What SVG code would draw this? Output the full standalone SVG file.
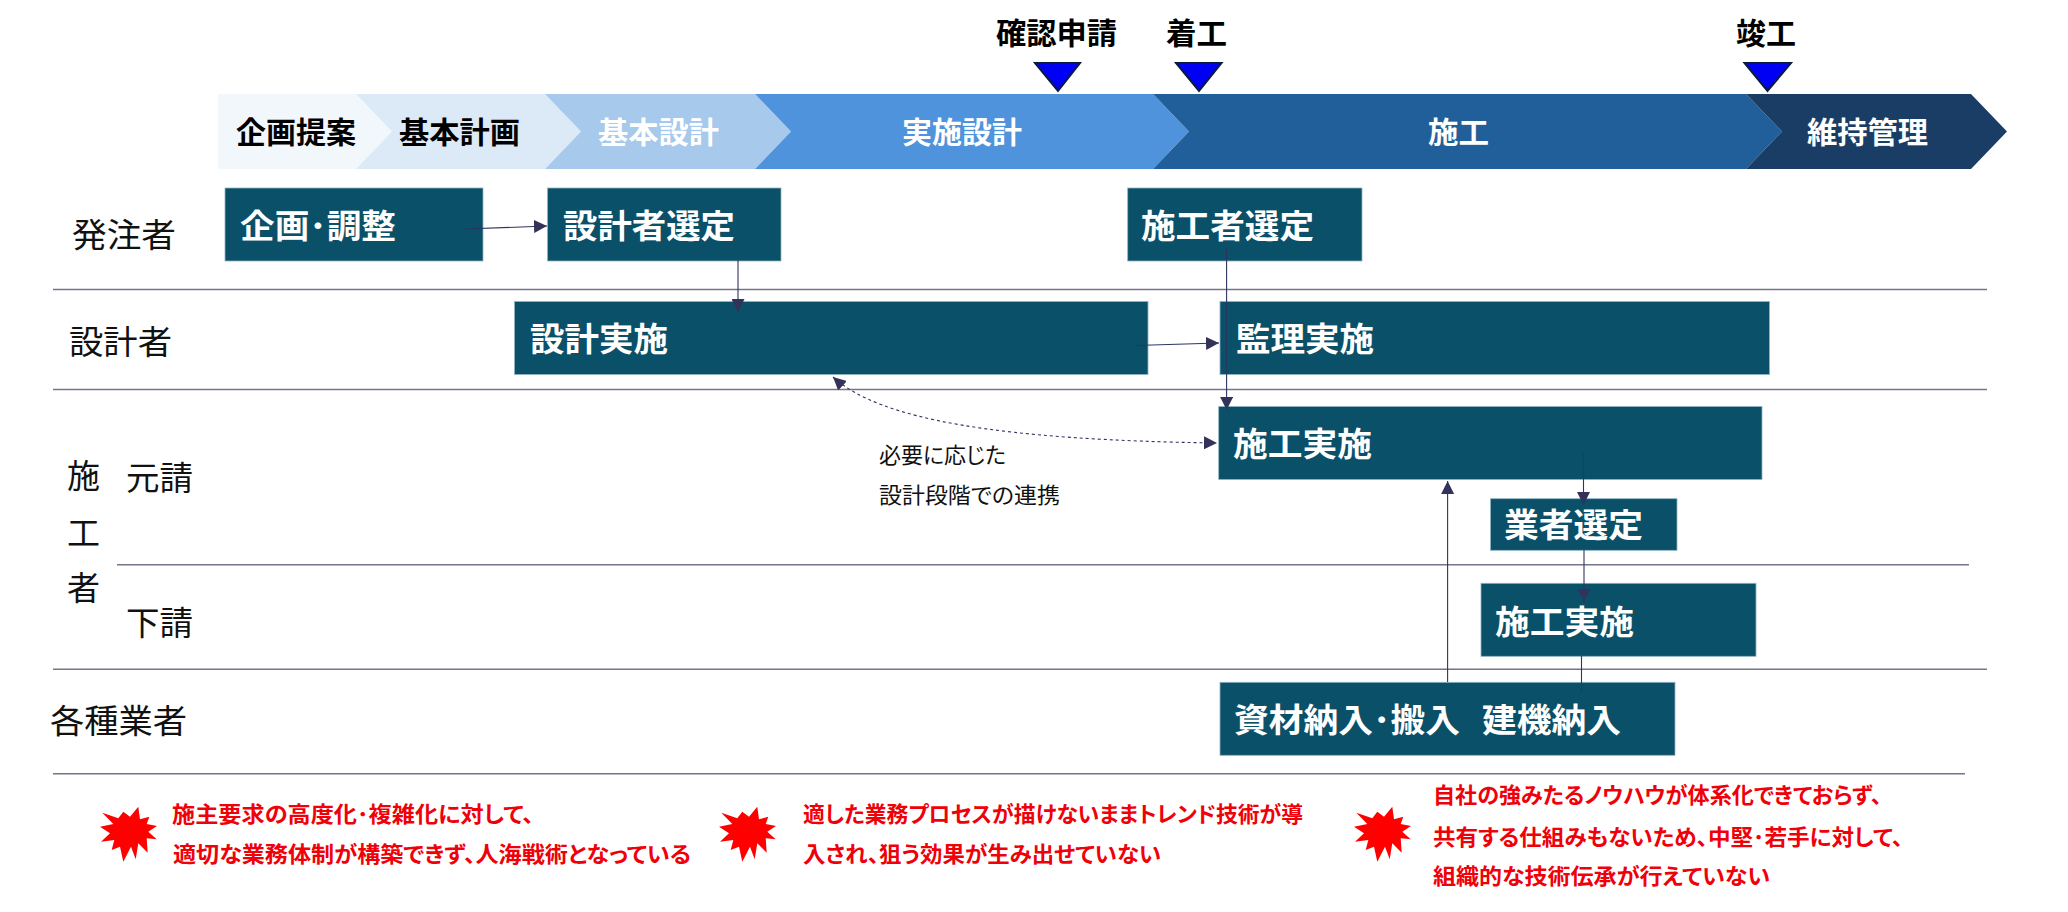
<svg xmlns="http://www.w3.org/2000/svg" width="2068" height="912" viewBox="0 0 2068 912">
<style>
text{font-family:"Noto Sans CJK JP","Noto Sans CJK SC",sans-serif;font-feature-settings:"palt"}
.h{font-size:30px;font-weight:700}
.k{fill:#000}.w{fill:#fff}
.b{fill:#0A5068;stroke:#8FB4C4;stroke-width:.8}
.bt{font-size:33px;font-weight:700;fill:#fff}
.l{font-size:33px;font-weight:400;fill:#111}
.n{font-size:22px;fill:#111}
.r{font-size:22px;font-weight:700;fill:#F00008}
.g{stroke:#74748A;stroke-width:1.6;fill:none}
.c{stroke:#2E3560;stroke-width:1.1;fill:none}
.tri{fill:#0000F5;stroke:#0A1A40;stroke-width:2}
.st{fill:#FF0000}
</style>
<defs>
<marker id="a" markerUnits="userSpaceOnUse" markerWidth="13" markerHeight="13" viewBox="0 0 13 13" refX="13" refY="6.5" orient="auto-start-reverse"><path d="M0,0L13,6.5L0,13Z" fill="#33335A"/></marker>
<path id="burst" d="M138.3,806.7L140,819.3L149.3,816.7L146.7,824L157,826L148.3,831.7L156.7,839.3L146.7,838.3L147.7,852.7L138.3,843.3L135.7,859.3L131,846.7L123.3,861.7L120,846.7L111.7,850L114.3,840L101,841.7L110,833.3L100,826.7L113.3,824L102.3,812.7L118.3,818.3L123.3,811.7L130,816.7Z"/>
</defs>
<g id="phases">
<g id="p1"><path d="M218,94H356L392,131.5L356,169H218Z" fill="#F2F7FC"/><text class="h k" x="236" y="143" textLength="120" lengthAdjust="spacingAndGlyphs">企画提案</text></g>
<g id="p2"><path d="M356,94H545L581,131.5L545,169H356L392,131.5Z" fill="#DCE9F6"/><text class="h k" x="399" y="143" textLength="121" lengthAdjust="spacingAndGlyphs">基本計画</text></g>
<g id="p3"><path d="M545,94H755L791,131.5L755,169H545L581,131.5Z" fill="#A6C9EC"/><text class="h w" x="598" y="143" textLength="121" lengthAdjust="spacingAndGlyphs">基本設計</text></g>
<g id="p4"><path d="M755,94H1153L1189,131.5L1153,169H755L791,131.5Z" fill="#4E93DB"/><text class="h w" x="902" y="143" textLength="120" lengthAdjust="spacingAndGlyphs">実施設計</text></g>
<g id="p5"><path d="M1153,94H1746L1782,131.5L1746,169H1153L1189,131.5Z" fill="#215F9A"/><text class="h w" x="1428" y="143" textLength="61" lengthAdjust="spacingAndGlyphs">施工</text></g>
<g id="p6"><path d="M1746,94H1971L2007,131.5L1971,169H1746L1782,131.5Z" fill="#1A3D66"/><text class="h w" x="1807" y="143" textLength="121" lengthAdjust="spacingAndGlyphs">維持管理</text></g>
</g>
<g id="milestones">
<g id="m1"><text class="h k" x="996" y="44" textLength="121" lengthAdjust="spacingAndGlyphs">確認申請</text><path class="tri" d="M1035,63H1080L1058,91Z"/></g>
<g id="m2"><text class="h k" x="1166" y="44" textLength="61" lengthAdjust="spacingAndGlyphs">着工</text><path class="tri" d="M1176,63H1221.5L1199,91Z"/></g>
<g id="m3"><text class="h k" x="1736" y="44" textLength="60" lengthAdjust="spacingAndGlyphs">竣工</text><path class="tri" d="M1744.5,63H1791L1767.5,91Z"/></g>
</g>
<g id="lanes">
<path class="g" d="M53,289.5H1987M53,389.5H1987M117,564.7H1969M53,669.3H1987M53,773.7H1965"/>
<text class="l" x="72" y="247" textLength="104" lengthAdjust="spacingAndGlyphs">発注者</text>
<text class="l" x="69" y="354" textLength="103" lengthAdjust="spacingAndGlyphs">設計者</text>
<text class="l" x="67" y="488">施</text>
<text class="l" x="67" y="545">工</text>
<text class="l" x="67" y="600">者</text>
<text class="l" x="126" y="490" textLength="67" lengthAdjust="spacingAndGlyphs">元請</text>
<text class="l" x="126" y="635" textLength="67" lengthAdjust="spacingAndGlyphs">下請</text>
<text class="l" x="50" y="733" textLength="137" lengthAdjust="spacingAndGlyphs">各種業者</text>
</g>
<g id="n1"><rect class="b" x="225" y="188" width="258" height="73"/><text class="bt" x="240" y="238" textLength="156" lengthAdjust="spacingAndGlyphs">企画･調整</text></g>
<g id="n2"><rect class="b" x="547.5" y="188" width="233.5" height="73"/><text class="bt" x="563" y="238" textLength="172" lengthAdjust="spacingAndGlyphs">設計者選定</text></g>
<g id="n3"><rect class="b" x="1127.7" y="188" width="234.3" height="73"/><text class="bt" x="1141" y="238" textLength="173" lengthAdjust="spacingAndGlyphs">施工者選定</text></g>
<g id="n4"><rect class="b" x="514.5" y="301.5" width="633.5" height="73"/><text class="bt" x="530" y="351" textLength="138" lengthAdjust="spacingAndGlyphs">設計実施</text></g>
<g id="n5"><rect class="b" x="1220" y="301.5" width="549.5" height="73"/><text class="bt" x="1236" y="351" textLength="138" lengthAdjust="spacingAndGlyphs">監理実施</text></g>
<g id="n6"><rect class="b" x="1218.7" y="406.5" width="543.3" height="73"/><text class="bt" x="1233" y="456" textLength="139" lengthAdjust="spacingAndGlyphs">施工実施</text></g>
<g id="n7"><rect class="b" x="1490.5" y="498.7" width="186.5" height="51.6"/><text class="bt" x="1504" y="537" textLength="139" lengthAdjust="spacingAndGlyphs">業者選定</text></g>
<g id="n8"><rect class="b" x="1481" y="583.3" width="275" height="73"/><text class="bt" x="1495" y="634" textLength="139" lengthAdjust="spacingAndGlyphs">施工実施</text></g>
<g id="n9"><rect class="b" x="1220" y="682.3" width="455" height="73"/><text class="bt" x="1234" y="732" textLength="387" lengthAdjust="spacingAndGlyphs" style="white-space:pre;word-spacing:3px">資材納入･搬入  建機納入</text></g>
<g id="connectors">
<path class="c" marker-end="url(#a)" d="M465,229L547,226"/>
<path class="c" marker-end="url(#a)" d="M738,260V312"/>
<path class="c" marker-end="url(#a)" d="M1135,345.5L1219,343"/>
<path class="c" marker-end="url(#a)" d="M1226.6,247V410"/>
<path class="c" stroke-dasharray="3 3" marker-start="url(#a)" marker-end="url(#a)" d="M833,377C880,420 1000,440 1217,443"/>
<path class="c" marker-end="url(#a)" d="M1583.5,453V505"/>
<path class="c" marker-end="url(#a)" d="M1584,550V602"/>
<path class="c" d="M1581.5,656V693"/>
<path class="c" marker-end="url(#a)" d="M1447.6,682V481"/>
</g>
<g id="note"><text class="n" x="879" y="463" textLength="127" lengthAdjust="spacingAndGlyphs">必要に応じた</text><text class="n" x="879" y="503" textLength="181" lengthAdjust="spacingAndGlyphs">設計段階での連携</text></g>
<g id="issue1"><use class="st" href="#burst"/><text class="r" x="172" y="822" textLength="362" lengthAdjust="spacingAndGlyphs">施主要求の高度化･複雑化に対して、</text><text class="r" x="173" y="862" textLength="518" lengthAdjust="spacingAndGlyphs">適切な業務体制が構築できず、人海戦術となっている</text></g>
<g id="issue2"><use class="st" href="#burst" x="619"/><text class="r" x="803" y="822" textLength="500" lengthAdjust="spacingAndGlyphs">適した業務プロセスが描けないままトレンド技術が導</text><text class="r" x="803" y="862" textLength="358" lengthAdjust="spacingAndGlyphs">入され、狙う効果が生み出せていない</text></g>
<g id="issue3"><use class="st" href="#burst" x="1254"/><text class="r" x="1433" y="803" textLength="449" lengthAdjust="spacingAndGlyphs">自社の強みたるノウハウが体系化できておらず、</text><text class="r" x="1433" y="845" textLength="470" lengthAdjust="spacingAndGlyphs">共有する仕組みもないため、中堅･若手に対して、</text><text class="r" x="1433" y="884" textLength="337" lengthAdjust="spacingAndGlyphs">組織的な技術伝承が行えていない</text></g>
</svg>
